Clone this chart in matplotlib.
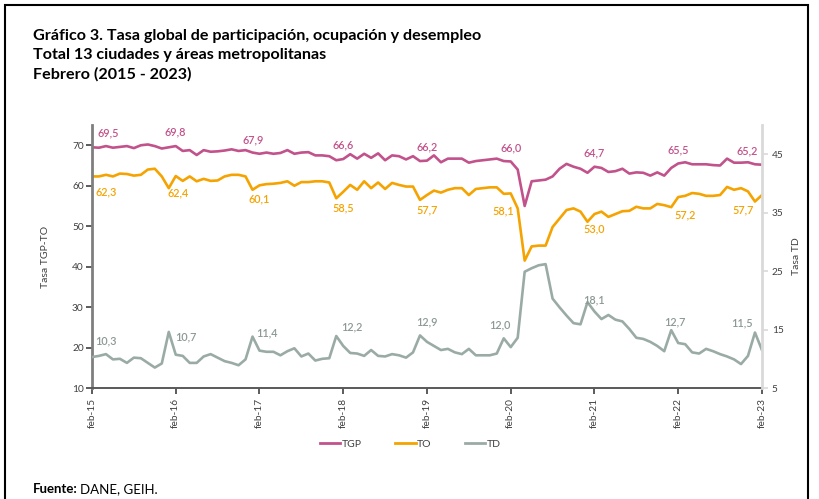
import matplotlib.pyplot as plt
from matplotlib.patches import Rectangle
from matplotlib.lines import Line2D

plt.rcParams['font.family'] = ['Lato', 'DejaVu Sans']

# monthly series, feb-15 .. feb-23 (97 months)
tgp = [69.5, 69.4, 69.8, 69.4, 69.6, 69.8, 69.3, 70.0, 70.2, 69.8, 69.2, 69.5,
       69.8, 68.6, 68.8, 67.6, 68.8, 68.4, 68.5, 68.7, 69.0, 68.6, 68.8, 68.2,
       67.9, 68.2, 67.9, 68.1, 68.8, 67.9, 68.2, 68.3, 67.5, 67.5, 67.3, 66.3,
       66.6, 67.8, 66.7, 67.9, 66.9, 68.0, 66.3, 67.5, 67.3, 66.5, 67.3, 66.1,
       66.2, 67.5, 65.8, 66.7, 66.7, 66.7, 65.7, 66.1, 66.3, 66.5, 66.7, 66.1,
       66.0, 64.0, 55.0, 61.1, 61.3, 61.5, 62.3, 64.2, 65.4, 64.7, 64.2, 63.2,
       64.7, 64.4, 63.4, 63.6, 64.2, 63.0, 63.3, 63.2, 62.5, 63.3, 62.5, 64.4,
       65.5, 65.8, 65.3, 65.3, 65.3, 65.1, 65.0, 66.7, 65.7, 65.7, 65.8, 65.3,
       65.2]
to = [62.3, 62.3, 62.7, 62.3, 63.0, 62.9, 62.5, 62.7, 64.0, 64.2, 62.3, 59.4,
      62.4, 61.2, 62.3, 61.1, 61.7, 61.2, 61.3, 62.3, 62.7, 62.7, 62.3, 59.0,
      60.1, 60.4, 60.5, 60.7, 61.1, 60.0, 60.9, 60.9, 61.1, 61.1, 60.8, 56.9,
      58.5, 60.2, 59.0, 61.1, 59.4, 60.8, 59.2, 60.7, 60.2, 59.8, 59.8, 56.5,
      57.7, 58.8, 58.3, 59.0, 59.4, 59.4, 57.7, 59.2, 59.4, 59.6, 59.6, 58.0,
      58.1, 54.4, 41.5, 45.0, 45.2, 45.2, 49.8, 51.9, 54.0, 54.4, 53.6, 51.1,
      53.0, 53.6, 52.3, 53.0, 53.7, 53.8, 54.8, 54.4, 54.4, 55.5, 55.2, 54.7,
      57.2, 57.5, 58.2, 58.0, 57.5, 57.5, 57.7, 59.7, 59.0, 59.4, 58.6, 56.1,
      57.7]
td = [10.3, 10.5, 10.8, 9.9, 10.0, 9.3, 10.2, 10.1, 9.3, 8.5, 9.2, 14.6,
      10.7, 10.5, 9.3, 9.3, 10.4, 10.8, 10.2, 9.6, 9.3, 8.9, 9.9, 13.8,
      11.4, 11.2, 11.2, 10.6, 11.3, 11.8, 10.4, 10.9, 9.7, 10.0, 10.1, 13.9,
      12.2, 11.0, 10.9, 10.5, 11.5, 10.5, 10.4, 10.8, 10.6, 10.2, 11.1, 14.0,
      12.9, 12.2, 11.5, 11.7, 11.1, 10.8, 11.7, 10.6, 10.6, 10.6, 10.9, 13.5,
      12.0, 13.6, 24.9, 25.5, 26.0, 26.2, 20.3, 18.8, 17.4, 16.1, 15.9, 19.7,
      18.1, 16.8, 17.5, 16.7, 16.4, 15.1, 13.6, 13.4, 12.9, 12.2, 11.3, 14.9,
      12.7, 12.5, 11.1, 10.9, 11.7, 11.3, 10.8, 10.4, 9.9, 9.1, 10.5, 14.5,
      11.5]
year_labels = ["feb-15", "feb-16", "feb-17", "feb-18", "feb-19",
               "feb-20", "feb-21", "feb-22", "feb-23"]

C_TGP = "#c2528b"
C_TO = "#f5a300"
C_TD = "#9aaba6"
C_TXT = "#404040"

x = list(range(len(tgp)))
feb_idx = [12 * k for k in range(len(year_labels))]


def fmt(v):
    return f"{v:.1f}".replace(".", ",")


fig = plt.figure(figsize=(8.2, 4.99), dpi=100)
ax = fig.add_axes([0.1122, 0.2224, 0.817, 0.527])
ax2 = ax.twinx()

ax.plot(x, tgp, color=C_TGP, lw=1.9, solid_joinstyle="round")
ax.plot(x, to, color=C_TO, lw=1.9, solid_joinstyle="round")
ax2.plot(x, td, color=C_TD, lw=1.9, solid_joinstyle="round")

ax.set_xlim(0, 96)
ax.set_ylim(10, 75)
ax2.set_ylim(5, 50)
ax.set_yticks(range(10, 71, 10))
ax2.set_yticks([5, 15, 25, 35, 45])
ax.set_xticks(feb_idx)
ax.set_xticklabels(year_labels, rotation=90)

for a in (ax, ax2):
    a.spines["top"].set_visible(False)
ax.spines["right"].set_visible(False)
ax2.spines["left"].set_visible(False)
ax2.spines["bottom"].set_visible(False)
ax.spines["left"].set_color("#7f7f7f")
ax.spines["left"].set_linewidth(2)
ax.spines["bottom"].set_color("#595959")
ax.spines["bottom"].set_linewidth(1.4)
ax2.spines["right"].set_color("#d9d9d9")
ax2.spines["right"].set_linewidth(2)

ax.tick_params(axis="y", labelsize=7.3, colors=C_TXT, length=4, width=1.2, pad=2)
ax.tick_params(axis="x", labelsize=7.3, colors=C_TXT, length=4, width=1.2, pad=3)
ax2.tick_params(axis="y", labelsize=7.3, colors=C_TXT, length=4, width=1.2,
                color="#d9d9d9", pad=3)

ax.set_ylabel("Tasa TGP-TO", fontsize=7.5, color=C_TXT, labelpad=16)
ax2.set_ylabel("Tasa TD", fontsize=7.5, color=C_TXT, labelpad=6)

# value labels at each february (offsets in pixels)
tgp_dx = [16, 0, -6, 0, 0, 0, 0, 0, -15]
to_dx = [14, 2, 0, 0, 0, -7, 0, 7, -19]
to_dy = [-15, -17, -14, -16, -15, -17, -15, -18, -15]
td_dx = [14, 10, 7, 9, 0, -11, 0, -3, -20]
td_dy = [16, 18, 18, 19, 20, 22, 12, 21, 27]
px = 72 / 100
for k, i in enumerate(feb_idx):
    ax.annotate(fmt(tgp[i]), (i, tgp[i]), xytext=(tgp_dx[k] * px, 14 * px),
                textcoords="offset points", ha="center", va="center",
                fontsize=7.8, color=C_TGP, fontweight="semibold")
    ax.annotate(fmt(to[i]), (i, to[i]), xytext=(to_dx[k] * px, to_dy[k] * px),
                textcoords="offset points", ha="center", va="center",
                fontsize=7.8, color=C_TO, fontweight="semibold")
    ax2.annotate(fmt(td[i]), (i, td[i]), xytext=(td_dx[k] * px, td_dy[k] * px),
                 textcoords="offset points", ha="center", va="center",
                 fontsize=7.8, color="#8c9995", fontweight="semibold")

handles = [Line2D([], [], color=c, lw=2) for c in (C_TGP, C_TO, C_TD)]
fig.legend(handles, ["TGP", "TO", "TD"], loc="center",
           bbox_to_anchor=(410 / 820, 1 - 444 / 499), ncol=3, frameon=False,
           fontsize=7.5, handlelength=2.0, handletextpad=0.1,
           columnspacing=3.2, labelcolor=C_TXT)

title = ["Gráfico 3. Tasa global de participación, ocupación y desempleo",
         "Total 13 ciudades y áreas metropolitanas",
         "Febrero (2015 - 2023)"]
for n, line in enumerate(title):
    fig.text(33 / 820, 1 - (40 + 19.5 * n) / 499, line, fontsize=11.6,
             fontweight="bold", color="black", va="baseline")

fig.text(33 / 820, 1 - 493 / 499, "Fuente:", fontsize=9.5,
         fontweight="bold", va="baseline")
fig.text(80 / 820, 1 - 493 / 499, "DANE, GEIH.", fontsize=9.5, va="baseline")

fig.add_artist(Rectangle((5 / 820, -0.02), 803 / 820, 1 - 5 / 499 + 0.02,
                         transform=fig.transFigure, fill=False,
                         lw=1.5, ec="black"))

fig.savefig("out.png", dpi=100)
